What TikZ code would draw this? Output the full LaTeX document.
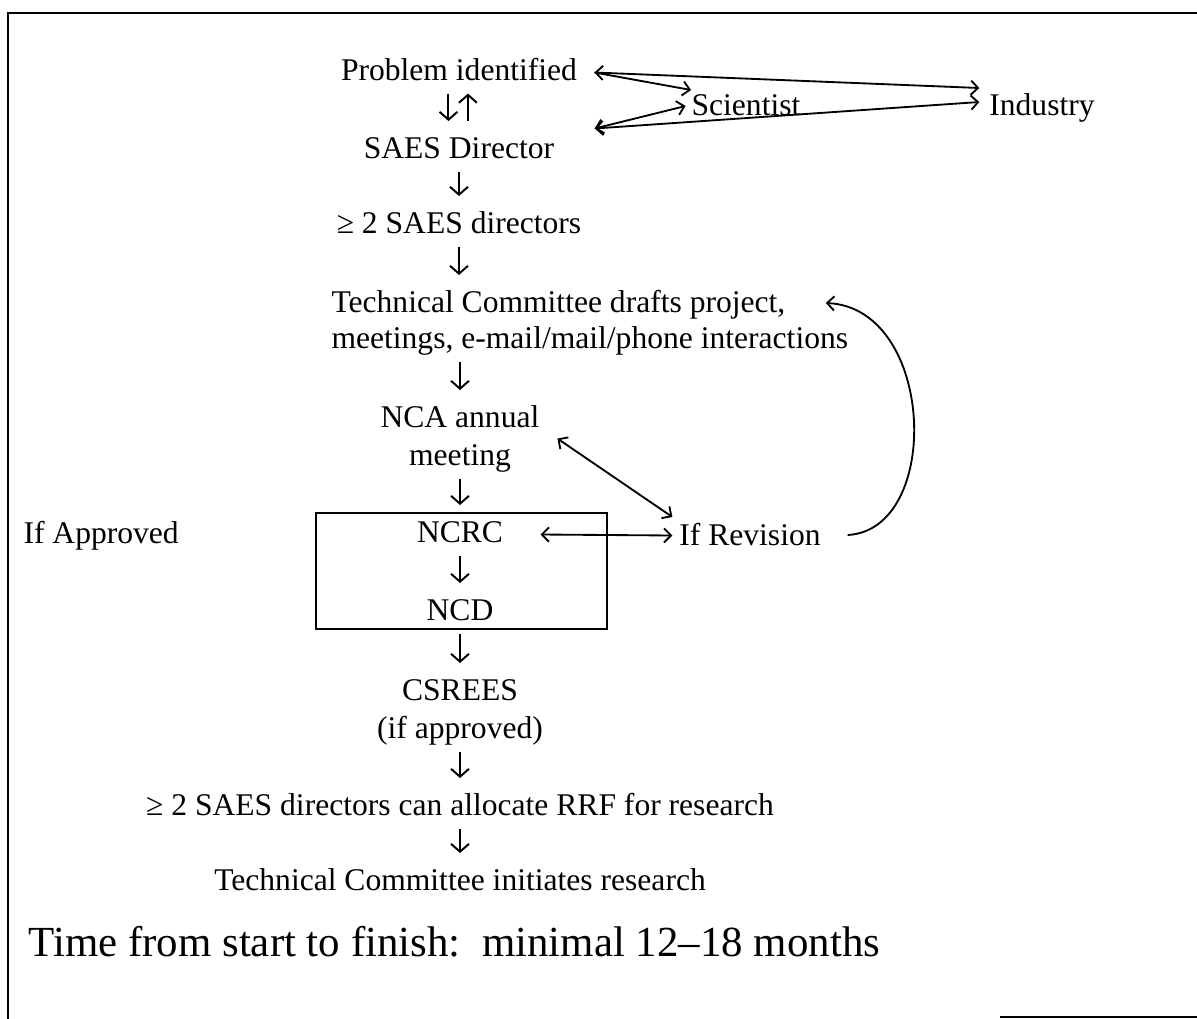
\documentclass[tikz,border=0pt]{standalone}
\usepackage{fontspec}
\setmainfont{Liberation Serif}
\usetikzlibrary{arrows.meta}

\tikzset{
  txt/.style={inner sep=0pt, text height=9pt, text depth=3pt, font=\fontsize{12}{14}\selectfont},
  flow/.style={-{Straight Barb[length=3pt,width=6.8pt]}, line width=0.75pt, shorten <=1.8pt, shorten >=5pt},
  link/.style={<->, line width=0.7pt}
}

\begin{document}
\begin{tikzpicture}[x=0.38pt,y=-0.38pt,>={Straight Barb[length=2.7pt,width=5.4pt]}]
      \useasboundingbox (0,0) rectangle (1197,1019);
      \draw[line width=1.1pt] (1197,13) -- (8,13) -- (8,1019);
      \draw[line width=1pt] (1000,1017) -- (1197,1017);

      \node[txt] (pi) at (459,72.5) {Problem identified};
      \node[txt] (sci) at (746,107.5) {Scientist};
      \node[txt] (ind) at (1042,107.5) {Industry};
      \node[txt] (sd) at (459,150.5) {SAES Director};
      \node[txt] (sd2) at (459,225.5) {≥ 2 SAES directors};
      \node[txt,anchor=west] (tc1) at (331,304.5) {Technical Committee drafts project,};
      \node[txt,anchor=west] (tc2) at (331,340.5) {meetings, e-mail/mail/phone interactions};
      \node[txt] (nca1) at (460,419.5) {NCA annual};
      \node[txt] (nca2) at (460,457.5) {meeting};
      \node[draw,line width=0.8pt,minimum width=110.6pt,minimum height=44.1pt,inner sep=0pt] (box) at (461.5,571) {};
      \node[txt] (ncrc) at (460,534.5) {NCRC};
      \node[txt] (ncd) at (460,612.5) {NCD};
      \node[txt] (cs1) at (460,692.5) {CSREES};
      \node[txt] (cs2) at (460,730.5) {(if approved)};
      \node[txt] (sd3) at (460,807.5) {≥ 2 SAES directors can allocate RRF for research};
      \node[txt] (ti) at (460,882.5) {Technical Committee initiates research};
      \node[txt,anchor=west] (appr) at (23,535.5) {If Approved};
      \node[txt] (ifr) at (750,537.5) {If Revision};
      \node[anchor=west,inner sep=0pt,font=\fontsize{16.3}{19}\selectfont] (time) at (28,942) {Time from start to finish:\ \ minimal 12–18 months};

      \draw[flow] ([xshift=-4pt]pi.south) -- ([xshift=-4pt]sd.north);
      \draw[flow,shorten <=5pt,shorten >=1.8pt] ([xshift=3.4pt]sd.north) -- ([xshift=3.4pt]pi.south);
      \draw[flow] (sd) -- (sd2);
      \draw[flow] (sd2.south) -- (sd2.south |- tc1.north);
      \draw[flow] (nca1.north |- tc2.south) -- (nca1);
      \draw[flow] (nca2) -- (ncrc);
      \draw[flow] (ncrc) -- (ncd);
      \draw[flow] (ncd) -- (cs1);
      \draw[flow] (cs2) -- (sd3);
      \draw[flow] (sd3) -- (ti);

      \draw[link] ([shift={(17,0)}]pi.east) -- ([shift={(-9.5,-19.5)}]ind.west);
      \draw[->,line width=0.7pt] ([shift={(17,0)}]pi.east) -- ([shift={(0,-17.5)}]sci.west);
      \draw[link] ([shift={(40,-22)}]sd.east) -- ([shift={(-5.5,-1.5)}]sci.west);
      \draw[link] ([shift={(40,-22)}]sd.east) -- ([shift={(-9.5,-5.5)}]ind.west);
      \draw[link] ([shift={(17.5,2.7)}]nca1.south east) -- ([shift={(-6.5,-20.5)}]ifr.west);
      \draw[link] ([shift={(37,0)}]ncrc.east) -- ([shift={(-6.5,-2)}]ifr.west);
      \draw[->,line width=0.7pt] ([shift={(26.5,-2.5)}]ifr.east) .. controls +(95,-5) and +(110,5) .. ([shift={(40,-1.5)}]tc1.east);
\end{tikzpicture}
\end{document}
